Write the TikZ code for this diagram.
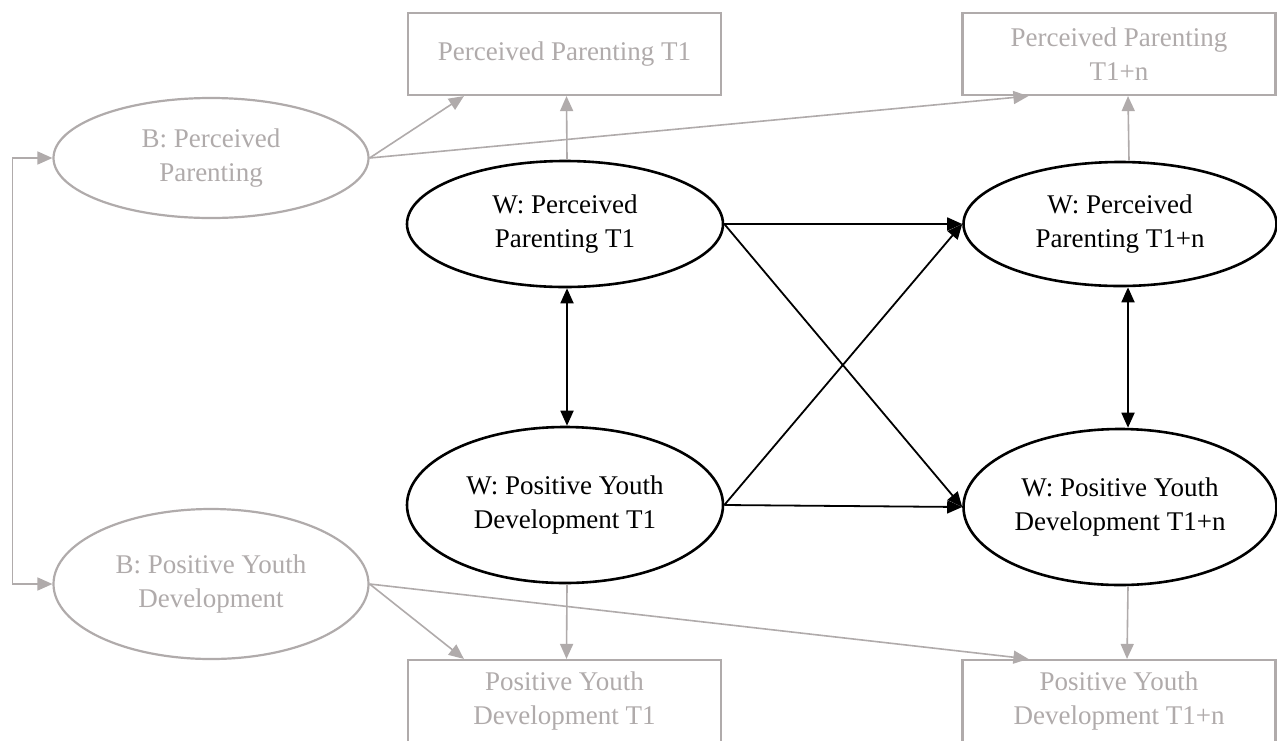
\documentclass[tikz,border=0pt]{standalone}
\usepackage{fontspec}
\setmainfont{Liberation Serif}
\usetikzlibrary{shapes.geometric,arrows.meta,calc}
\definecolor{lgray}{RGB}{176,171,171}
\begin{document}
\begin{tikzpicture}[x=1pt,y=-1pt,
  txt/.style={font=\fontsize{27}{34}\selectfont, align=center, inner sep=0pt},
  wnode/.style={txt, ellipse, draw=black, line width=2.6pt},
  bnode/.style={txt, ellipse, draw=lgray, line width=2.2pt, text=lgray},
  obsbox/.style={txt, rectangle, draw=lgray, line width=2.2pt, text=lgray,
     minimum width=313pt, minimum height=82pt},
  blk/.style={draw=black, line width=1.8pt, -{Triangle[length=15pt,width=13pt]}},
  blk2/.style={draw=black, line width=1.8pt, {Triangle[length=15pt,width=13pt]}-{Triangle[length=15pt,width=13pt]}},
  gry/.style={draw=lgray, line width=1.6pt, -{Triangle[length=15pt,width=13pt]}},
  gry2/.style={draw=lgray, line width=1.6pt, {Triangle[length=15pt,width=13pt]}-{Triangle[length=15pt,width=13pt]}}
]
\useasboundingbox (0,0) rectangle (1277,740);
\fill[white] (0,0) rectangle (1277,740);

% observed boxes
\node[obsbox] (ppt1)   at (564.5,54)  {Perceived Parenting T1};
\node[obsbox] (ppt1n)  at (1119,54)   {Perceived Parenting\\T1+n};
\node[obsbox] (pydt1)  at (564.5,701) {Positive Youth\\Development T1};
\node[obsbox] (pydt1n) at (1119,701)  {Positive Youth\\Development T1+n};

% between ellipses
\node[bnode, minimum width=315pt, minimum height=120pt] (bpp)  at (211,158) {B: Perceived\\Parenting};
\node[bnode, minimum width=315pt, minimum height=150pt] (bpyd) at (211,584) {B: Positive Youth\\Development};

% within ellipses
\node[wnode, minimum width=316pt, minimum height=126pt] (wppt1)   at (565,224) {W: Perceived\\Parenting T1};
\node[wnode, minimum width=316pt, minimum height=156pt] (wpydt1)  at (565,505) {W: Positive Youth\\Development T1};
\node[wnode, minimum width=313pt, minimum height=124pt] (wppt1n)  at (1120,224) {W: Perceived\\Parenting T1+n};
\node[wnode, minimum width=313pt, minimum height=156pt] (wpydt1n) at (1120,507) {W: Positive Youth\\Development T1+n};

% black structural paths
\draw[blk] (wppt1.east) -- (wppt1n.west);
\draw[blk] (wppt1.east) -- (wpydt1n.west);
\draw[blk] (wpydt1.east) -- (wppt1n.west);
\draw[blk] (wpydt1.east) -- (wpydt1n.west);
\draw[blk2] ([xshift=2pt]wppt1.south) -- ([xshift=2pt]wpydt1.north);
\draw[blk2] ([xshift=8pt]wppt1n.south) -- ([xshift=8pt]wpydt1n.north);

% gray loadings
\draw[gry] ([xshift=2pt]wppt1.north) -- ([xshift=2pt]ppt1.south);
\draw[gry] ([xshift=9pt]wppt1n.north) -- ([xshift=9pt]ppt1n.south);
\draw[gry] ([xshift=2pt]wpydt1.south) -- ([xshift=2pt]pydt1.north);
\draw[gry] ([xshift=8pt]wpydt1n.south) -- ([xshift=8pt]pydt1n.north);
\draw[gry] (bpp.east) -- ([xshift=57pt]ppt1.south west);
\draw[gry] (bpp.east) -- ([xshift=67pt]ppt1n.south west);
\draw[gry] (bpyd.east) -- ([xshift=57pt]pydt1.north west);
\draw[gry] (bpyd.east) -- ([xshift=67pt]pydt1n.north west);

% between covariance
\draw[gry2] (bpp.west) -- ++(-40,0) |- (bpyd.west);
\end{tikzpicture}
\end{document}
